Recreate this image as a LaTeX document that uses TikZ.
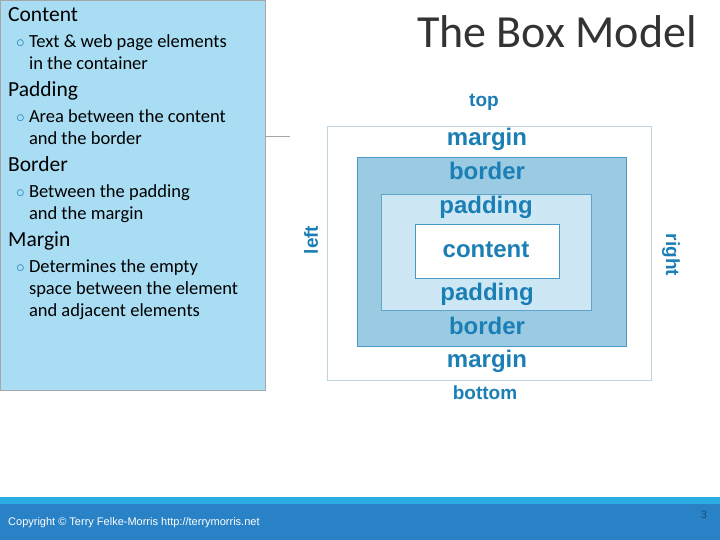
\documentclass[tikz,border=0pt]{standalone}
\usepackage{fontspec}
\setmainfont{Carlito}
\newfontfamily\lib{Liberation Sans}
\begin{document}
\begin{tikzpicture}[x=1pt,y=-1pt,
  lab/.style={font=\lib\bfseries\fontsize{24}{26}\selectfont,text=dblue,inner sep=0},
  slab/.style={font=\lib\bfseries\fontsize{19}{21}\selectfont,text=dblue,inner sep=0},
  head/.style={anchor=base west,font=\fontsize{21.5}{22}\selectfont,inner sep=0},
  bul/.style={anchor=north west,align=left,font=\fontsize{18.5}{22}\selectfont,inner sep=0}]
\definecolor{dblue}{HTML}{1B7FB5}
\definecolor{lbox}{HTML}{A8DDF3}
\definecolor{bord}{HTML}{6FB4D6}
\definecolor{pad}{HTML}{CDE8F4}
\definecolor{bar}{HTML}{2A82C6}
\definecolor{barl}{HTML}{2AABE2}
\useasboundingbox (0,0) rectangle (720,540);
\fill[white] (0,0) rectangle (720,540);
% left panel
\draw[fill=lbox,draw=gray!70] (0,0) rectangle (265,390);
\draw[gray!70] (265,136) -- (290,136);
\node[head] (h1) at (8,22) {Content};
\node[bul] (b1) at (16,34) {\textcolor{dblue}{$\circ$} Text \& web page elements\\\phantom{$\circ$ }in the container};
\node[head] (h2) at (8,97) {Padding};
\node[bul] (b2) at (16,109) {\textcolor{dblue}{$\circ$} Area between the content\\\phantom{$\circ$ }and the border};
\node[head] (h3) at (8,172) {Border};
\node[bul] (b3) at (16,184) {\textcolor{dblue}{$\circ$} Between the padding\\\phantom{$\circ$ }and the margin};
\node[head] (h4) at (8,247) {Margin};
\node[bul] (b4) at (16,259) {\textcolor{dblue}{$\circ$} Determines the empty\\\phantom{$\circ$ }space between the element\\\phantom{$\circ$ }and adjacent elements};
% title
\node[font=\fontsize{46}{50}\selectfont,text=black!80] (t) at (557,32) {The Box Model};
% box model
\draw[fill=white,draw=pad!80!gray] (327,126) rectangle (651,380);
\draw[fill=bord!70,draw=dblue!80,line width=1pt] (357,158) rectangle (626,346);
\draw[fill=pad,draw=dblue!70] (381,194) rectangle (591,310);
\draw[fill=white,draw=dblue!80] (415,224) rectangle (559,278);
\node[slab] (top) at (484,102) {top};
\node[lab] (m1) at (487,139) {margin};
\node[lab] (bo1) at (487,171) {border};
\node[lab] (p1) at (486,207) {padding};
\node[lab] (c) at (486,250) {content};
\node[lab] (p2) at (487,294) {padding};
\node[lab] (bo2) at (487,326) {border};
\node[lab] (m2) at (487,361) {margin};
\node[slab] (bot) at (485,393) {bottom};
\node[slab,rotate=90] (lf) at (311,240) {left};
\node[slab,rotate=-90] (rt) at (671,255) {right};
% footer
\fill[bar] (0,497) rectangle (720,540);
\fill[barl] (0,497) rectangle (720,504);
\node[anchor=west,text=white,font=\lib\fontsize{11}{12}\selectfont,inner sep=0] (cp) at (8,523) {Copyright \textcopyright{} Terry Felke-Morris http://terrymorris.net};
\node[text=bar!60!black,font=\lib\fontsize{11}{12}\selectfont,inner sep=0] (pg) at (704,515) {3};
\end{tikzpicture}
\end{document}
